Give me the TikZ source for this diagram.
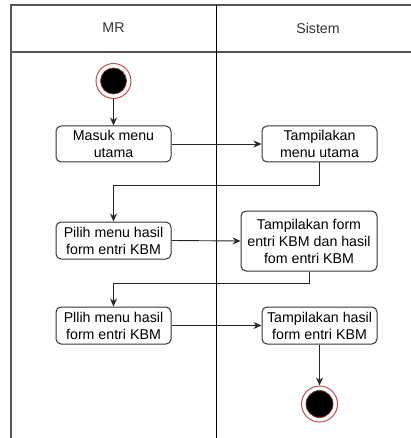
\documentclass[tikz,border=0pt]{standalone}
\usepackage{fontspec}
\setmainfont{Liberation Sans}
\usetikzlibrary{arrows.meta}
\definecolor{frameg}{HTML}{555555}
\definecolor{boxg}{HTML}{333333}
\definecolor{ringred}{HTML}{C0504D}
\tikzset{
  act/.style={draw=boxg, line width=1pt, rounded corners=5pt, fill=white,
    inner sep=0pt, align=center, font=\fontsize{14.2}{17}\selectfont},
  flow/.style={draw=black!85, line width=0.9pt, -{Stealth[length=8pt,width=7pt]}},
  lane/.style={draw=frameg, line width=1.6pt},
  hdr/.style={font=\fontsize{14.2}{17}\selectfont, text=black!80},
}
\begin{document}
\begin{tikzpicture}[x=1pt,y=-1pt]
\useasboundingbox (0,0) rectangle (411,438);
% swimlane frame
\draw[lane] (411,5) -- (11,5) -- (11,438);
\draw[lane, line width=1.2pt] (11,52) -- (411,52);
\draw[draw=black, line width=1pt] (216,5) -- (216,438);
\node[hdr] (hmr) at (113.5,28) {MR};
\node[hdr] (hsis) at (318,28) {Sistem};
% start
\node[circle, draw=ringred, line width=1pt, fill=white, minimum size=35pt, inner sep=0pt] (start) at (113.5,81) {};
\node[circle, draw=ringred!70!black, line width=0.8pt, fill=black, minimum size=26pt, inner sep=0pt] (startin) at (113.5,81) {};
% activities
\node[act, minimum width=115pt, minimum height=36pt] (b1) at (113.5,144) {Masuk menu\\utama};
\node[act, minimum width=115pt, minimum height=36pt] (b2) at (319.5,144) {Tampilakan\\menu utama};
\node[act, minimum width=115pt, minimum height=37pt] (b3) at (113.5,240.5) {Pilih menu hasil\\form entri KBM};
\node[act, minimum width=136pt, minimum height=60pt] (b4) at (309,241) {Tampilakan form\\entri KBM dan hasil\\fom entri KBM};
\node[act, minimum width=115pt, minimum height=37pt] (b5) at (113.5,325.5) {Pllih menu hasil\\form entri KBM};
\node[act, minimum width=115pt, minimum height=37pt] (b6) at (319.5,325.5) {Tampilakan hasil\\form entri KBM};
% end
\node[circle, draw=ringred, line width=1pt, fill=white, minimum size=36pt, inner sep=0pt] (end) at (319.5,404) {};
\node[circle, draw=ringred!70!black, line width=0.8pt, fill=black, minimum size=27pt, inner sep=0pt] (endin) at (319.5,404) {};
% flows
\draw[flow] (start) -- (b1.north);
\draw[flow] (b1.east) -- (b2.west);
\draw[flow] (b2.south) -- ++(0,23) -| (b3.north);
\draw[flow] (b3.east) -- (b4.west);
\draw[flow] (b4.south) -- ++(0,12) -| (b5.north);
\draw[flow] (b5.east) -- (b6.west);
\draw[flow] (b6.south) -- (end);
\end{tikzpicture}
\end{document}
